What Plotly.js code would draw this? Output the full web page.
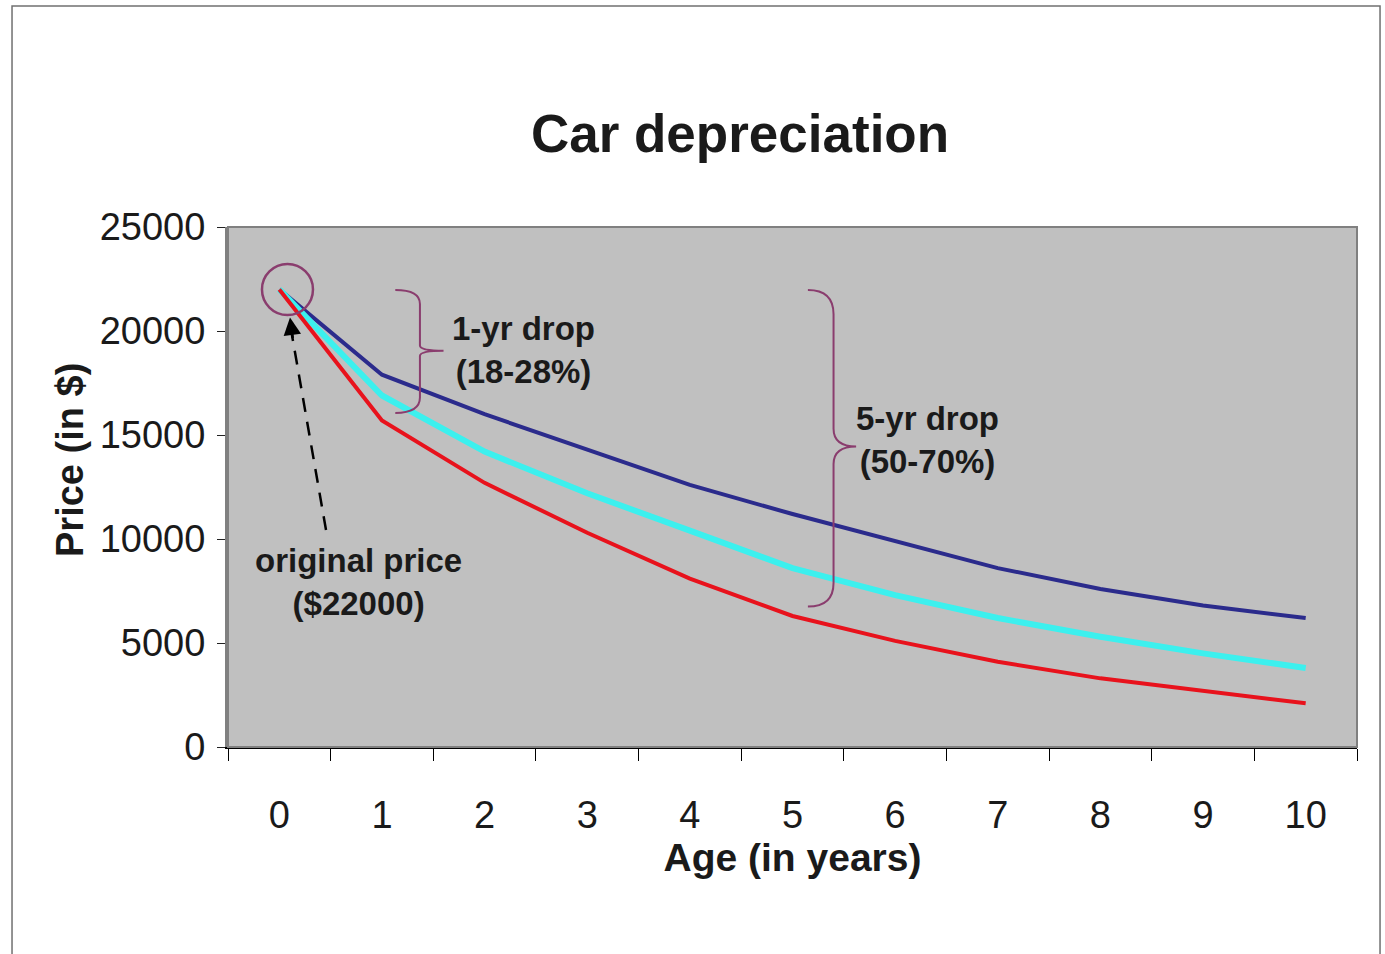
<!DOCTYPE html>
<html>
<head>
<meta charset="utf-8">
<script src="https://cdn.plot.ly/plotly-3.0.1.min.js"></script>
<style>html,body{margin:0;padding:0;background:#fff;}#chart{width:1385px;height:954px;}</style>
</head>
<body>
<div id="chart"></div>
<script>
// Data
const years = [0, 1, 2, 3, 4, 5, 6, 7, 8, 9, 10];
const priceSlow = [22000, 17900, 16000, 14300, 12600, 11200, 9900, 8600, 7600, 6800, 6200];
const priceMid  = [22000, 16900, 14200, 12200, 10400, 8600, 7300, 6200, 5300, 4500, 3800];
const priceFast = [22000, 15700, 12700, 10300, 8100, 6300, 5100, 4100, 3300, 2700, 2100];
const yTicks = [0, 5000, 10000, 15000, 20000, 25000];
const xLabels = years.map(String);

const SANS = 'Liberation Sans, Arial, sans-serif';
const INK = '#1a1a1a';
const BRACE = '#8a3d6e';

const traces = [
  {x: years, y: priceSlow, mode: 'lines', line: {color: '#2b2b8c', width: 4}, hoverinfo: 'x+y'},
  {x: years, y: priceMid,  mode: 'lines', line: {color: '#3cf0ee', width: 6}, hoverinfo: 'x+y'},
  {x: years, y: priceFast, mode: 'lines', line: {color: '#e8121c', width: 4}, hoverinfo: 'x+y'}
];

const layout = {
  width: 1385, height: 954,
  margin: {l: 228, r: 28, t: 227, b: 207, pad: 0},
  paper_bgcolor: '#ffffff',
  plot_bgcolor: '#c0c0c0',
  showlegend: false,
  title: {
    text: 'Car depreciation',
    font: {family: SANS, size: 53, color: INK, weight: 'bold'},
    xref: 'container', yref: 'container',
    x: 740 / 1385, xanchor: 'center',
    y: 1 - 133 / 954, yanchor: 'middle'
  },
  xaxis: {
    range: [-0.5, 10.5],
    tickmode: 'array', tickvals: years, ticktext: xLabels,
    ticks: '',
    minor: {tick0: -0.5, dtick: 1, ticks: 'outside', ticklen: 12, tickwidth: 1, tickcolor: '#000', showgrid: false},
    showline: true, linecolor: '#000', linewidth: 2,
    showgrid: false, zeroline: false,
    tickfont: {family: SANS, size: 38, color: INK},
    ticklabelstandoff: 33,
    title: {text: 'Age (in years)', font: {family: SANS, size: 39, color: INK, weight: 'bold'}, standoff: 0}
  },
  yaxis: {
    range: [0, 25000],
    tickmode: 'array', tickvals: yTicks, ticktext: yTicks.map(String),
    ticks: 'outside', ticklen: 8, tickwidth: 1, tickcolor: '#222',
    showline: true, linecolor: '#808080', linewidth: 3,
    showgrid: false, zeroline: false,
    tickfont: {family: SANS, size: 38, color: INK},
    ticklabelstandoff: 4,
    title: {text: ''}
  },
  shapes: [
    // plot area frame (top/right)
    {type: 'rect', xref: 'paper', yref: 'paper', x0: 0, x1: 1, y0: 0, y1: 1, line: {color: '#808080', width: 2}, layer: 'above'},
    // outer picture border
    {type: 'rect', xref: 'paper', yref: 'paper', x0: -0.1913, x1: 1.0204, y0: -0.40, y1: 1.425, line: {color: '#707070', width: 1.5}},
    // circle around the original price
    {type: 'circle', xref: 'x', yref: 'y', x0: -0.169, x1: 0.328, y0: 20770, y1: 23220, line: {color: BRACE, width: 2.5}},
    // dashed arrow shaft
    {type: 'line', xref: 'x', yref: 'y', x0: 0.455, y0: 10430, x1: 0.12, y1: 19900, line: {color: '#000', width: 2.5, dash: '14px,10px'}},
    // 1-yr brace
    {type: 'path', xref: 'x', yref: 'y', line: {color: BRACE, width: 2},
     path: 'M 1.13 21970 Q 1.37 21970 1.37 21300 L 1.37 19300 Q 1.37 19050 1.6 19050 Q 1.37 19050 1.37 18800 L 1.37 16800 Q 1.37 16060 1.13 16060'},
    // 5-yr brace
    {type: 'path', xref: 'x', yref: 'y', line: {color: BRACE, width: 2},
     path: 'M 5.15 21970 Q 5.4 21970 5.4 20800 L 5.4 15300 Q 5.4 14450 5.62 14450 Q 5.4 14450 5.4 13600 L 5.4 7900 Q 5.4 6750 5.15 6750'}
  ],
  annotations: [
    // y-axis title placed like the reference
    {xref: 'paper', yref: 'paper', x: (70 - 228) / 1129, y: (747 - 460) / 520, text: 'Price (in $)', textangle: -90,
     showarrow: false, xanchor: 'center', yanchor: 'middle', font: {family: SANS, size: 38, color: INK, weight: 'bold'}},
    {x: 0.104, y: 20650, xref: 'x', yref: 'y', text: '', showarrow: true, arrowhead: 2, arrowsize: 1.4, arrowwidth: 2.5, arrowcolor: '#000', ax: 3, ay: 22},
    {x: 2.375, y: 19087, xref: 'x', yref: 'y', text: '1-yr drop<br>(18-28%)', showarrow: false,
     font: {family: SANS, size: 33, color: INK, weight: 'bold'}, align: 'center'},
    {x: 6.32, y: 14760, xref: 'x', yref: 'y', text: '5-yr drop<br>(50-70%)', showarrow: false,
     font: {family: SANS, size: 33, color: INK, weight: 'bold'}, align: 'center'},
    {x: 0.767, y: 7930, xref: 'x', yref: 'y', text: 'original price<br>($22000)', showarrow: false,
     font: {family: SANS, size: 33, color: INK, weight: 'bold'}, align: 'center'}
  ]
};

Plotly.newPlot('chart', traces, layout, {displayModeBar: false, staticPlot: true});
</script>
</body>
</html>
